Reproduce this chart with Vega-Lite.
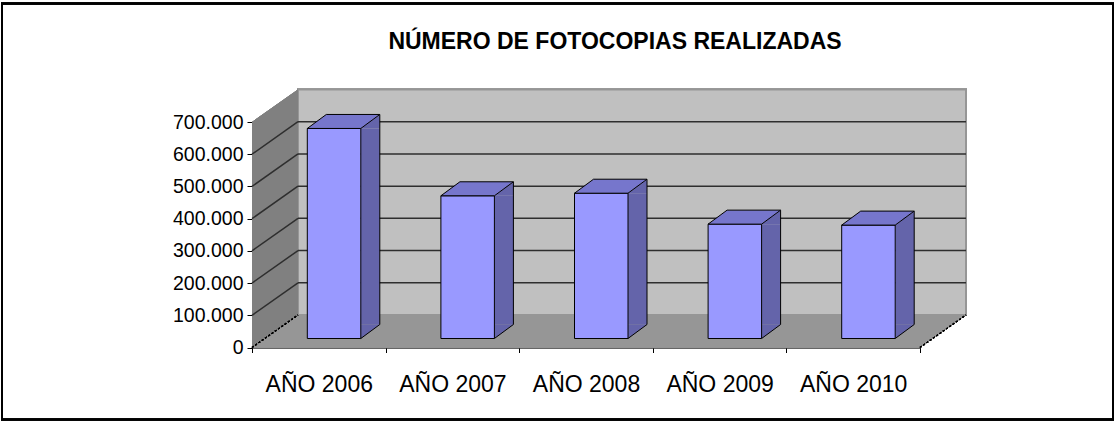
{
  "$schema": "https://vega.github.io/schema/vega-lite/v6.json",
  "width": 668,
  "height": 225.5,
  "autosize": {"type": "none"},
  "padding": {"left": 252, "top": 122, "right": 195, "bottom": 73.5},
  "background": "white",
  "config": {
    "view": {"stroke": null},
    "font": "Liberation Sans",
    "locale": {"number": {"decimal": ",", "thousands": ".", "grouping": [3], "currency": ["", " €"]}},
    "axisX": {
      "tickBand": "extent", "tickSize": 5, "tickColor": "black", "tickWidth": 1,
      "domainColor": "#333333", "domainWidth": 1.5,
      "labelFontSize": 23, "labelColor": "black", "labelFont": "Liberation Sans",
      "labelPadding": 21, "labelAngle": 0, "zindex": 1, "grid": false, "labelOverlap": false
    },
    "axisY": {
      "tickSize": 5, "tickColor": "black", "tickWidth": 1,
      "domainColor": "#333333", "domainWidth": 1,
      "labelFontSize": 19.5, "labelColor": "black", "labelFont": "Liberation Sans",
      "labelPadding": 4, "grid": false, "zindex": 1,
      "labelOverlap": false, "labelFlush": false, "labelBound": false, "labelSeparation": 0
    }
  },
  "title": {
    "text": "NÚMERO DE FOTOCOPIAS  REALIZADAS",
    "fontSize": 23,
    "fontWeight": "bold",
    "font": "Liberation Sans",
    "color": "black",
    "anchor": "middle",
    "frame": "group",
    "dx": 29,
    "offset": -51
  },
  "datasets": {
    "fotocopias": [
      {"año": "AÑO 2006", "fotocopias": 652000},
      {"año": "AÑO 2007", "fotocopias": 443000},
      {"año": "AÑO 2008", "fotocopias": 451000},
      {"año": "AÑO 2009", "fotocopias": 355000},
      {"año": "AÑO 2010", "fotocopias": 352000}
    ],
    "rejilla": [
      {"v": 100000}, {"v": 200000}, {"v": 300000},
      {"v": 400000}, {"v": 500000}, {"v": 600000}
    ]
  },
  "data": {"name": "fotocopias"},
  "layer": [
    {
      "mark": {"type": "rect", "filled": false, "stroke": "black", "strokeWidth": 2, "xOffset": -250, "x2Offset": 193, "yOffset": -118.5, "y2Offset": 72},
      "encoding": {
        "x": {"value": 0}, "x2": {"value": "width"},
        "y": {"value": 0}, "y2": {"value": "height"}
      }
    },
    {
      "mark": {"type": "rect", "fill": "#c0c0c0", "stroke": "#969696", "strokeWidth": 2, "xOffset": 46, "x2Offset": 46, "yOffset": -32.5, "y2Offset": -32.5},
      "encoding": {
        "x": {"value": 0}, "x2": {"value": "width"},
        "y": {
          "datum": 0, "title": null,
          "scale": {"domain": [0, 700000], "nice": false},
          "axis": {"tickCount": 7, "format": ",d", "labelOverlap": false}
        },
        "y2": {"datum": 700000}
      }
    },
    {
      "data": {"name": "rejilla"},
      "mark": {"type": "rule", "color": "#2e2e2e", "strokeWidth": 1.5, "xOffset": 46, "x2Offset": 46, "yOffset": -32.5},
      "encoding": {
        "x": {"value": 0}, "x2": {"value": "width"},
        "y": {"field": "v", "type": "quantitative", "title": null}
      }
    },
    {
      "mark": {"type": "point", "shape": "M0,0 L668,0 L714,-32.5 L46,-32.5 Z", "size": 4, "filled": true, "fill": "#969696", "opacity": 1, "strokeWidth": 0},
      "encoding": {
        "x": {"value": 0},
        "y": {"datum": 0, "title": null}
      }
    },
    {
      "mark": {"type": "point", "shape": "M0,0 L0,-225.5 L46,-258 L46,-32.5 Z", "size": 4, "filled": true, "fill": "#808080", "opacity": 1, "strokeWidth": 0},
      "encoding": {
        "x": {"value": 0},
        "y": {"datum": 0, "title": null}
      }
    },
    {
      "data": {"name": "rejilla"},
      "mark": {"type": "rule", "color": "#2e2e2e", "strokeWidth": 1.5, "x2Offset": 46, "y2Offset": -32.5},
      "encoding": {
        "x": {"value": 0}, "x2": {"value": 0},
        "y": {"field": "v", "type": "quantitative", "title": null},
        "y2": {"field": "v"}
      }
    },
    {
      "mark": {"type": "point", "shape": "M0,0 L46,-32.5 M668,0 L714,-32.5", "size": 4, "filled": false, "stroke": "black", "strokeWidth": 1.2, "strokeDash": [2, 2], "opacity": 1},
      "encoding": {
        "x": {"value": 0},
        "y": {"datum": 0, "title": null}
      }
    },
    {
      "mark": {"type": "bar", "width": 19, "xOffset": 51.5, "yOffset": -9, "y2Offset": -23, "fill": "#6464aa", "strokeWidth": 0},
      "encoding": {
        "x": {"field": "año", "type": "nominal", "sort": null, "title": null, "scale": {"type": "band", "paddingInner": 0, "paddingOuter": 0}},
        "y": {"field": "fotocopias", "type": "quantitative", "title": null},
        "y2": {"datum": 0}
      }
    },
    {
      "mark": {"type": "point", "shape": "M42,-9 L61,-23 L61,-9 Z", "size": 4, "filled": true, "fill": "#6464aa", "opacity": 1, "strokeWidth": 0},
      "encoding": {
        "x": {"field": "año", "type": "nominal", "sort": null, "title": null},
        "y": {"field": "fotocopias", "type": "quantitative", "title": null}
      }
    },
    {
      "mark": {"type": "point", "shape": "M42,-23 L61,-23 L42,-9 Z", "size": 4, "filled": true, "fill": "#6464aa", "opacity": 1, "strokeWidth": 0},
      "encoding": {
        "x": {"field": "año", "type": "nominal", "sort": null, "title": null},
        "y": {"datum": 0, "title": null}
      }
    },
    {
      "mark": {"type": "point", "shape": "M42,-9 L61,-23", "size": 4, "filled": false, "stroke": "black", "strokeWidth": 1, "opacity": 1},
      "encoding": {
        "x": {"field": "año", "type": "nominal", "sort": null, "title": null},
        "y": {"datum": 0, "title": null}
      }
    },
    {
      "mark": {"type": "rule", "color": "black", "strokeWidth": 1, "xOffset": 61, "yOffset": -23, "y2Offset": -23},
      "encoding": {
        "x": {"field": "año", "type": "nominal", "sort": null, "title": null},
        "y": {"field": "fotocopias", "type": "quantitative", "title": null},
        "y2": {"datum": 0}
      }
    },
    {
      "mark": {"type": "bar", "width": 53.5, "xOffset": 15.25, "yOffset": -9, "y2Offset": -9, "fill": "#9999ff", "stroke": "black", "strokeWidth": 1},
      "encoding": {
        "x": {"field": "año", "type": "nominal", "sort": null, "title": null},
        "y": {"field": "fotocopias", "type": "quantitative", "title": null},
        "y2": {"datum": 0}
      }
    },
    {
      "mark": {"type": "point", "shape": "M-11.5,-9 L7.5,-23 L61,-23 L42,-9 Z", "size": 4, "filled": true, "fill": "#7676cc", "stroke": "black", "strokeWidth": 1, "opacity": 1},
      "encoding": {
        "x": {"field": "año", "type": "nominal", "sort": null, "title": null},
        "y": {"field": "fotocopias", "type": "quantitative", "title": null}
      }
    }
  ]
}
